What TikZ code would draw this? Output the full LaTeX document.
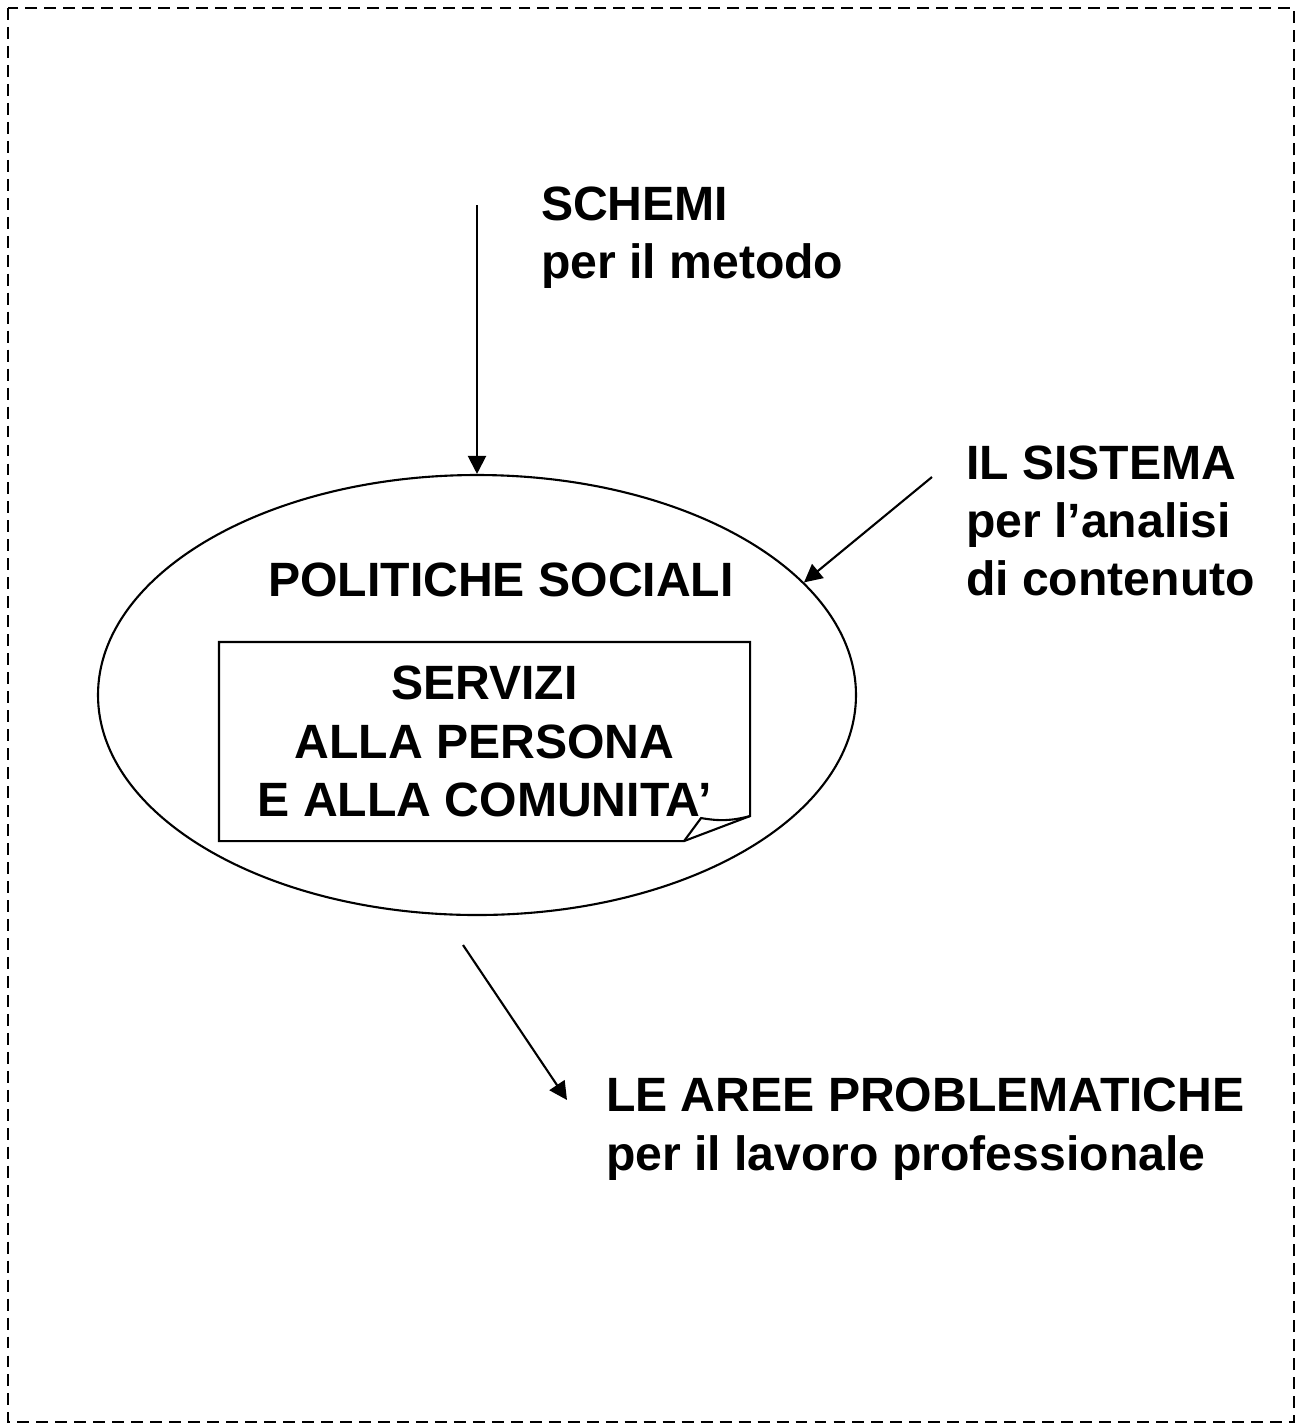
\documentclass[tikz,border=0pt]{standalone}
\usepackage{fontspec}
\setmainfont{Liberation Sans}
\usetikzlibrary{arrows.meta,shapes.geometric}

\begin{document}
\begin{tikzpicture}[
  line width=0.6pt,
  lbl/.style={font=\bfseries\fontsize{13.7}{16.6}\selectfont, inner sep=0pt},
  arr/.style={-{Triangle[length=1.8mm,width=1.8mm]}, line width=0.6pt},
  frame/.style={dash pattern=on 3.4pt off 2pt, line width=0.6pt}
]
  \useasboundingbox (0,0) rectangle (12.97,-14.25);
  % dashed page frame
  \draw[frame] (0.08,-0.08) rectangle (12.94,-14.22);

  % ellipse and inner note
  \node[ellipse, draw, minimum width=7.58cm, minimum height=4.40cm,
        inner sep=0pt] (pol) at (4.77,-6.95) {};
  \node[lbl] (poltxt) at (5.01,-5.80) {POLITICHE SOCIALI};
  \node[lbl, align=center, minimum width=5.29cm, minimum height=1.97cm]
       (servizi) at (4.845,-7.415) {SERVIZI\\ALLA PERSONA\\E ALLA COMUNITA'};
  \draw (servizi.north west) -- (servizi.north east)
        -- ([yshift=0.25cm]servizi.south east)
        -- ([xshift=-0.66cm]servizi.south east)
        -- (servizi.south west) -- cycle;
  \draw ([xshift=-0.66cm]servizi.south east) -- ++(0.17,0.23)
        to[bend right=12] ([yshift=0.25cm]servizi.south east);

  % outer labels
  \node[lbl, align=left, anchor=west] (schemi) at (5.40,-2.38)
       {SCHEMI\\per il metodo};
  \node[lbl, align=left, anchor=west] (sistema) at (9.65,-5.21)
       {IL SISTEMA\\per l’analisi\\di contenuto};
  \node[lbl, align=left, anchor=west] (aree) at (6.05,-11.29)
       {LE AREE PROBLEMATICHE\\per il lavoro professionale};

  % arrows
  \coordinate (schemiTail) at (4.77,-2.05);
  \coordinate (sistemaTail) at (9.32,-4.77);
  \coordinate (areeTail) at (4.63,-9.45);
  \coordinate (areeHead) at (5.67,-11.00);
  \draw[arr] (schemiTail) -- (pol.north);
  \draw[arr] (sistemaTail) -- (pol.19);
  \draw[arr] (areeTail) -- (areeHead);
\end{tikzpicture}
\end{document}
